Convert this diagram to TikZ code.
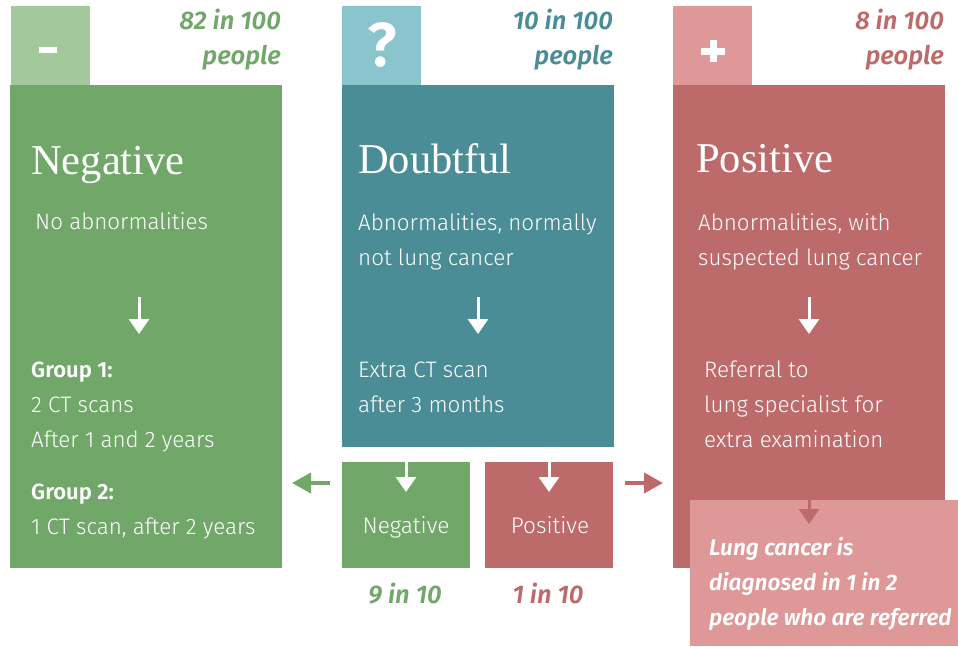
\documentclass[tikz,border=0pt]{standalone}
\usepackage{fontspec}
\setmainfont{Fira Sans Light}
\newfontfamily\headfont{Liberation Serif}
\newfontfamily\semibold{Fira Sans SemiBold}
\newfontfamily\semiit{Fira Sans SemiBold Italic}
\usetikzlibrary{arrows.meta}
\definecolor{gmain}{HTML}{71A86A}
\definecolor{glight}{HTML}{A3C89B}
\definecolor{tmain}{HTML}{4A8D96}
\definecolor{tlight}{HTML}{8AC4CD}
\definecolor{rmain}{HTML}{BC6A6A}
\definecolor{rlight}{HTML}{DE9897}
\tikzset{
  panel/.style={fill=#1, draw=none, inner sep=0pt, anchor=north west},
  head/.style={text=white, inner sep=0pt, anchor=base west, font=\headfont\fontsize{42.5}{42}\selectfont},
  body/.style={text=white, inner sep=0pt, anchor=base west, font=\fontsize{22.4}{22}\selectfont},
  bodyb/.style={text=white, inner sep=0pt, anchor=base west, font=\semibold\fontsize{22}{22}\selectfont},
  count/.style={text=#1, inner sep=0pt, anchor=base east, font=\semiit\fontsize{25.5}{26}\selectfont},
  smallcount/.style={text=#1, inner sep=0pt, anchor=base, font=\semiit\fontsize{25.5}{26}\selectfont},
  note/.style={text=white, inner sep=0pt, anchor=base west, font=\semiit\fontsize{22.6}{22}\selectfont},
  downarrow/.style={draw=#1, line width=3pt, -{Triangle[width=20pt,length=15pt]}},
  siderarrow/.style={draw=#1, line width=4pt, -{Triangle[width=20pt,length=19pt]}},
}
\begin{document}
\begin{tikzpicture}[x=1pt,y=-1pt]
\useasboundingbox (0,0) rectangle (958,646);
% ---------- tabs ----------
\node[panel=glight, minimum width=79pt, minimum height=79pt] (tabneg) at (11,6) {};
\node[panel=tlight, minimum width=79pt, minimum height=79pt] (tabdbt) at (342,6) {};
\node[panel=rlight, minimum width=79pt, minimum height=79pt] (tabpos) at (673,6) {};
\node[fill=white, inner sep=0pt, minimum width=18pt, minimum height=6pt] (minus) at (48,50) {};
\node[text=white, inner sep=0pt, font=\semibold\fontsize{62}{62}\selectfont] (qmark) at (382,45) {?};
\node[fill=white, inner sep=0pt, minimum width=24pt, minimum height=7pt] (plush) at (713,51) {};
\node[fill=white, inner sep=0pt, minimum width=7pt, minimum height=22pt] (plusv) at (713,51) {};
% ---------- counts ----------
\node[count=gmain] (c1a) at (281,29) {82 in 100};
\node[count=gmain] (c1b) at (281,64) {people};
\node[count=tmain] (c2a) at (613,29) {10 in 100};
\node[count=tmain] (c2b) at (613,64) {people};
\node[count=rmain] (c3a) at (944,29) {8 in 100};
\node[count=rmain] (c3b) at (944,64) {people};
% ---------- main panels ----------
\node[panel=gmain, minimum width=272pt, minimum height=483pt] (negbox) at (10,85) {};
\node[panel=tmain, minimum width=272pt, minimum height=362pt] (dbtbox) at (342,85) {};
\node[panel=rmain, minimum width=272pt, minimum height=483pt] (posbox) at (673,85) {};
% negative column
\node[head] (hneg) at (31,174) {Negative};
\node[body] (n1) at (35,229) {No abnormalities};
\coordinate (na1) at (139,297); \coordinate (na2) at (139,334);
\draw[downarrow=white] (na1) -- (na2);
\node[bodyb] (g1) at (31,377) {Group 1:};
\node[body] (g1a) at (31,412) {2 CT scans};
\node[body] (g1b) at (31,447) {After 1 and 2 years};
\node[bodyb] (g2) at (31,499) {Group 2:};
\node[body] (g2a) at (31,534) {1 CT scan, after 2 years};
% doubtful column
\node[head] (hdbt) at (358,173) {Doubtful};
\node[body] (d1) at (358,230) {Abnormalities, normally};
\node[body] (d2) at (358,265) {not lung cancer};
\coordinate (da1) at (478,297); \coordinate (da2) at (478,334);
\draw[downarrow=white] (da1) -- (da2);
\node[body] (d3) at (358,377) {Extra CT scan};
\node[body] (d4) at (358,412) {after 3 months};
% positive column
\node[head] (hpos) at (696,172) {Positive};
\node[body] (p1) at (698,230) {Abnormalities, with};
\node[body] (p2) at (698,265) {suspected lung cancer};
\coordinate (pa1) at (809,297); \coordinate (pa2) at (809,334);
\draw[downarrow=white] (pa1) -- (pa2);
\node[body] (p3) at (704,377) {Referral to};
\node[body] (p4) at (704,412) {lung specialist for};
\node[body] (p5) at (704,447) {extra examination};
% ---------- small boxes ----------
\node[panel=gmain, minimum width=128pt, minimum height=106pt] (sneg) at (342,462) {};
\node[panel=rmain, minimum width=128pt, minimum height=106pt] (spos) at (485,462) {};
\node[text=white, inner sep=0pt, anchor=base, font=\fontsize{22.6}{22}\selectfont] (snegt) at (406,533) {Negative};
\node[text=white, inner sep=0pt, anchor=base, font=\fontsize{22.6}{22}\selectfont] (spost) at (550,533) {Positive};
\coordinate (sa1) at (406,462); \coordinate (sa2) at (406,492);
\draw[downarrow=white] (sa1) -- (sa2);
\coordinate (sb1) at (549,462); \coordinate (sb2) at (549,492);
\draw[downarrow=white] (sb1) -- (sb2);
\node[smallcount=gmain] (cn) at (405,603) {9 in 10};
\node[smallcount=rmain] (cp) at (548,603) {1 in 10};
% side arrows
\coordinate (la1) at (330,483); \coordinate (la2) at (292,483);
\draw[siderarrow=gmain] (la1) -- (la2);
\coordinate (ra1) at (625,483); \coordinate (ra2) at (663,483);
\draw[siderarrow=rmain] (ra1) -- (ra2);
% ---------- diagnosis box ----------
\node[panel=rlight, minimum width=268pt, minimum height=146pt] (diag) at (690,500) {};
\coordinate (xa1) at (809,500); \coordinate (xa2) at (809,524);
\draw[downarrow=rmain] (xa1) -- (xa2);
\node[note] (l1) at (709,555) {Lung cancer is};
\node[note] (l2) at (709,590) {diagnosed in 1 in 2};
\node[note] (l3) at (709,625) {people who are referred};
\end{tikzpicture}
\end{document}
